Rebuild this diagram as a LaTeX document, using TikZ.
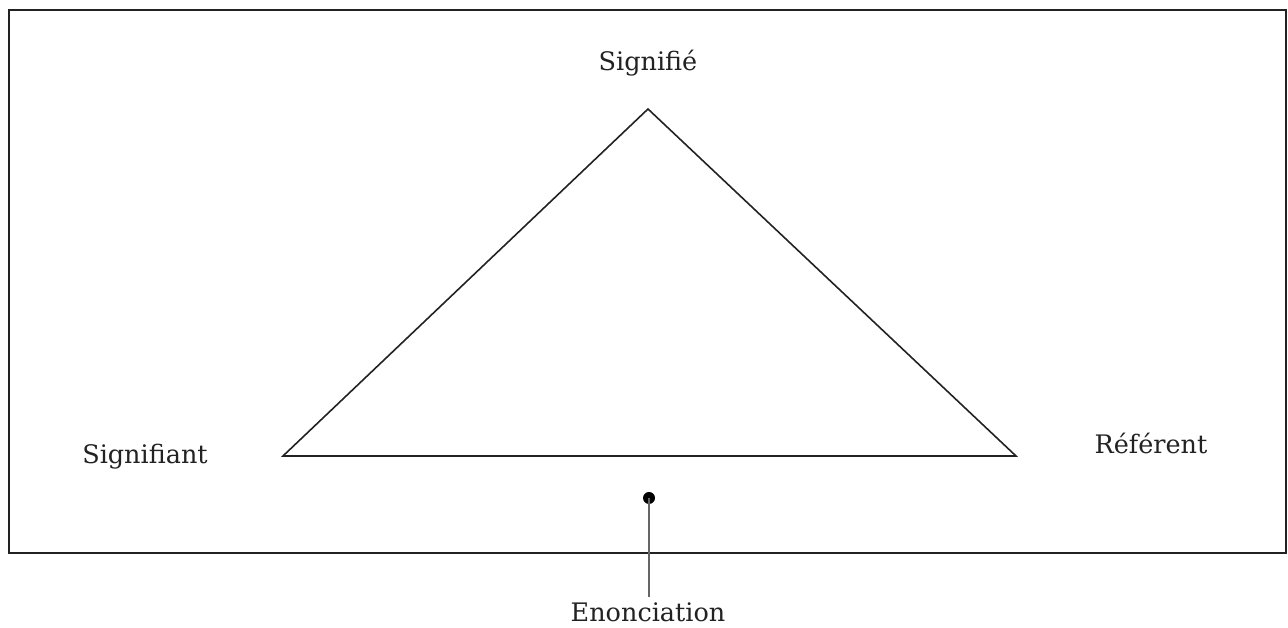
\documentclass[tikz,border=0pt]{standalone}
\usepackage{fontspec}
\setmainfont{DejaVu Serif}
\usepackage{tikz}
\usetikzlibrary{positioning, calc}
\definecolor{inkgrey}{HTML}{222222}
\definecolor{stemgrey}{HTML}{666666}

\begin{document}
\begin{tikzpicture}[x=1pt, y=1pt, font=\fontsize{25.5}{30}\selectfont,
    label/.style={text=inkgrey, inner sep=0pt}]
  \useasboundingbox (0,0) rectangle (1288,628);
  \draw[line width=1.8pt, inkgrey] (9,75) rectangle (1286,618);
  % triangle corners
  \coordinate (top) at (648,519);
  \coordinate (left) at (283,172);
  \coordinate (right) at (1016,172);
  \draw[line width=1.6pt, inkgrey] (left) -- (top) -- (right) -- cycle;
  \node[label] (sdo) at (648,565) {Signifié};
  \node[label] (sant) at (145,171) {Signifiant};
  \node[label] (ref) at (1151,185) {Référent};
  % enonciation marker
  \fill (649,130) circle (6pt) coordinate (dot);
  \node[label] (enon) at (648,16) {Enonciation};
  \draw[stemgrey, line width=1.4pt] (dot) -- (dot |- 0,31);
\end{tikzpicture}
\end{document}
